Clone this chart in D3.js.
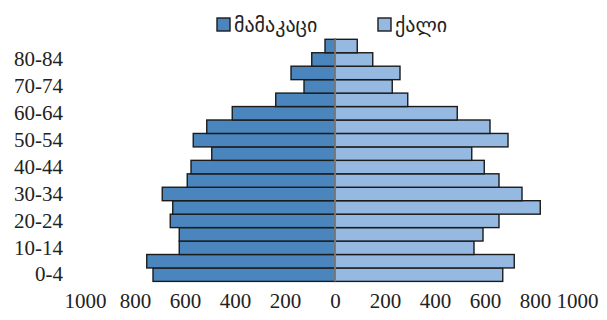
<!DOCTYPE html>
<html>
<head>
<meta charset="utf-8">
<script src="https://cdn.jsdelivr.net/npm/d3@7"></script>
<style>
  html, body { margin: 0; padding: 0; background: #fff; }
  svg { display: block; }
</style>
</head>
<body>
<svg id="chart" width="607" height="320"></svg>
<script>
const ageGroups = ["0-4","5-9","10-14","15-19","20-24","25-29","30-34","35-39","40-44","45-49","50-54","55-59","60-64","65-69","70-74","75-79","80-84","85+"];
const male   = [728, 753, 623, 623, 659, 649, 691, 591, 576, 493, 567, 513, 411, 237, 124, 176, 93, 40];
const female = [671, 717, 556, 592, 656, 821, 748, 656, 597, 547, 692, 620, 489, 291, 229, 260, 151, 89];
const tickValues = [-1000, -800, -600, -400, -200, 0, 200, 400, 600, 800, 1000];
const seriesNames = ["მამაკაცი", "ქალი"];
const seriesColors = ["#4B85BD", "#95B9E1"];

const svg = d3.select("#chart");
const numFont = "'Liberation Serif', 'Times New Roman', serif";
const geoFont = "'DejaVu Sans', sans-serif";

const x = d3.scaleLinear().domain([-1000, 1000]).range([85, 585]);
const y = d3.scaleBand().domain(ageGroups.slice().reverse()).range([39.3, 281.4]).padding(0);

const data = ageGroups.map((g, i) => ({ g, m: male[i], f: female[i] }));

// male bars
svg.append("g").selectAll("rect").data(data).join("rect")
  .attr("x", d => x(-d.m))
  .attr("y", d => y(d.g))
  .attr("width", d => x(0) - x(-d.m))
  .attr("height", y.bandwidth())
  .attr("fill", seriesColors[0])
  .attr("stroke", "#1b1b1b")
  .attr("stroke-width", 1.4);

// female bars
svg.append("g").selectAll("rect").data(data).join("rect")
  .attr("x", x(0))
  .attr("y", d => y(d.g))
  .attr("width", d => x(d.f) - x(0))
  .attr("height", y.bandwidth())
  .attr("fill", seriesColors[1])
  .attr("stroke", "#1b1b1b")
  .attr("stroke-width", 1.4);

// center line
svg.append("line")
  .attr("x1", x(0)).attr("x2", x(0))
  .attr("y1", y.range()[0]).attr("y2", y.range()[1])
  .attr("stroke", "#8a8a8a").attr("stroke-width", 1.6);

// x axis
const xAxis = svg.append("g")
  .attr("transform", "translate(0,293)")
  .call(d3.axisBottom(x).tickValues(tickValues).tickFormat(d => Math.abs(d)).tickSize(0).tickPadding(0));
xAxis.select(".domain").remove();
xAxis.selectAll("text")
  .attr("font-family", numFont)
  .attr("font-size", 21)
  .attr("fill", "#222")
  .attr("dy", "0.71em");
xAxis.selectAll(".tick").filter(d => d === 1000).select("text")
  .attr("text-anchor", "end").attr("dx", 13);

// y axis (every other label)
const yAxis = svg.append("g")
  .attr("transform", "translate(63,0)")
  .call(d3.axisLeft(y).tickValues(ageGroups.filter((d, i) => i % 2 === 0)).tickSize(0).tickPadding(0));
yAxis.select(".domain").remove();
yAxis.selectAll("text")
  .attr("font-family", numFont)
  .attr("font-size", 21)
  .attr("fill", "#222");

// legend
const legend = svg.append("g");
const legendX = [217, 378];
seriesNames.forEach((name, i) => {
  const g = legend.append("g").attr("transform", `translate(${legendX[i]},18)`);
  g.append("rect").attr("width", 13).attr("height", 13)
    .attr("fill", seriesColors[i]).attr("stroke", "#1b1b1b").attr("stroke-width", 1.4);
  g.append("text").attr("x", 17).attr("y", 7).attr("dy", "0.35em")
    .attr("font-family", geoFont).attr("font-size", 20).attr("fill", "#222")
    .text(name);
});
</script>
</body>
</html>
